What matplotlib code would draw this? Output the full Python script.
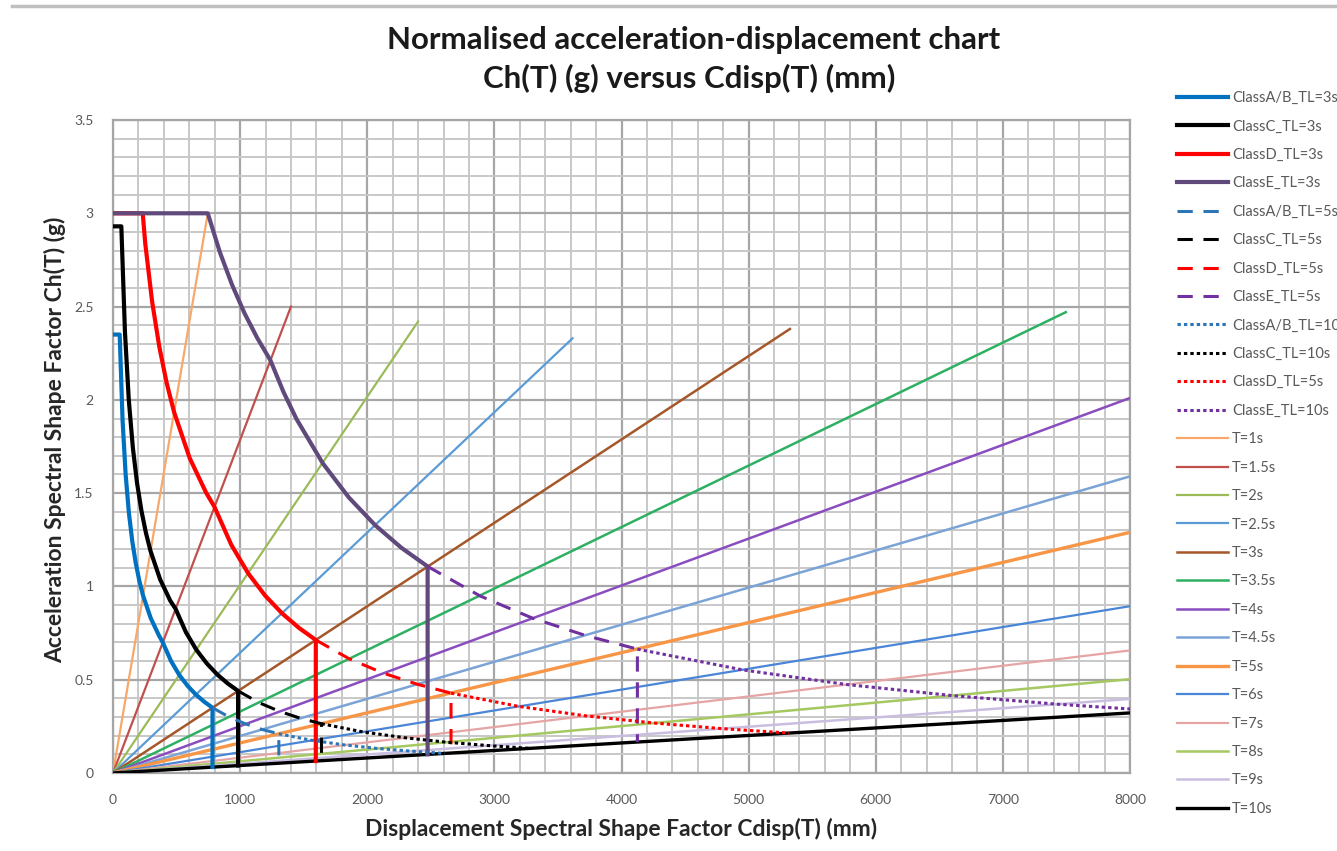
import matplotlib
matplotlib.use("Agg")
import matplotlib.pyplot as plt
from matplotlib.lines import Line2D
from matplotlib.ticker import MultipleLocator, FuncFormatter

# Site class spectra, TL = 3 s (solid): Cdisp (mm) and Ch (g)
AB_TL3_DISP = [0, 52.6, 75.2, 99.4, 124.8, 151.4, 178.9, 207.2, 236.4, 296.9, 360.0,
               391.4, 456.6, 521.8, 587.0, 652.3, 717.5, 782.7, 782.7]
AB_TL3_CH = [2.35, 2.35, 1.892, 1.600, 1.396, 1.243, 1.125, 1.030, 0.951, 0.830, 0.739,
             0.700, 0.600, 0.525, 0.467, 0.420, 0.382, 0.350, 0.032]

C_TL3_DISP = [0, 65.5, 94.0, 124.2, 156.1, 189.2, 223.6, 259.1, 295.5, 371.1, 450.0,
              492.0, 574.0, 656.0, 738.0, 820.0, 902.0, 984.0, 984.0]
C_TL3_CH = [2.93, 2.93, 2.364, 2.000, 1.744, 1.554, 1.406, 1.287, 1.189, 1.037, 0.924,
            0.880, 0.754, 0.660, 0.587, 0.528, 0.480, 0.440, 0.040]

D_TL3_DISP = [0, 233.8, 253.8, 307.7, 363.6, 421.3, 480.6, 603.7, 732.0, 797.7,
              930.6, 1063.5, 1196.5, 1329.4, 1462.4, 1595.3, 1595.3]
D_TL3_CH = [3.0, 3.0, 2.837, 2.527, 2.287, 2.093, 1.934, 1.687, 1.503, 1.427,
            1.223, 1.070, 0.951, 0.856, 0.778, 0.713, 0.064]

E_TL3_DISP = [0, 745.5, 839.8, 936.3, 1034.8, 1135.2, 1237.5, 1340.6, 1443.7, 1650.0,
              1856.2, 2062.5, 2268.7, 2475.0, 2475.0]
E_TL3_CH = [3.0, 3.0, 2.793, 2.617, 2.464, 2.331, 2.213, 2.043, 1.897, 1.660,
            1.476, 1.328, 1.207, 1.107, 0.100]

# TL = 5 s (dashed)
AB_TL5_DISP = [782.7, 913.2, 1043.6, 1174.1, 1304.5, 1304.5]
AB_TL5_CH = [0.350, 0.300, 0.263, 0.233, 0.210, 0.053]
C_TL5_DISP = [984.0, 1148.0, 1312.0, 1476.0, 1640.0, 1640.0]
C_TL5_CH = [0.440, 0.377, 0.330, 0.293, 0.264, 0.066]
D_TL5_DISP = [1595.3, 1861.2, 2127.1, 2393.0, 2658.9, 2658.9]
D_TL5_CH = [0.713, 0.611, 0.535, 0.476, 0.428, 0.107]
E_TL5_DISP = [2475.0, 2887.5, 3300.0, 3712.5, 4125.0, 4125.0]
E_TL5_CH = [1.107, 0.949, 0.830, 0.738, 0.664, 0.166]

# TL = 10 s (dotted)
AB_TL10_DISP = [1304.5, 1565.4, 1826.3, 2087.2, 2348.1, 2609.0]
AB_TL10_CH = [0.210, 0.175, 0.150, 0.131, 0.117, 0.105]
C_TL10_DISP = [1640.0, 1968.0, 2296.0, 2624.0, 2952.0, 3280.0]
C_TL10_CH = [0.264, 0.220, 0.189, 0.165, 0.147, 0.132]
D_TL10_DISP = [2658.9, 3190.6, 3722.4, 4254.2, 4785.9, 5317.7]
D_TL10_CH = [0.428, 0.357, 0.306, 0.268, 0.238, 0.214]
E_TL10_DISP = [4125.0, 4950.0, 5775.0, 6600.0, 7425.0, 8250.0]
E_TL10_CH = [0.664, 0.553, 0.474, 0.415, 0.369, 0.332]

# constant-period lines from the origin
PERIOD_LABELS = ["T=1s", "T=1.5s", "T=2s", "T=2.5s", "T=3s", "T=3.5s", "T=4s",
                 "T=4.5s", "T=5s", "T=6s", "T=7s", "T=8s", "T=9s", "T=10s"]
PERIOD_END_DISP = [745.5, 1400, 2400, 3615, 5325, 7495, 8000, 8000, 8000, 8000,
                   8000, 8000, 8000, 8000]
PERIOD_END_CH = [3.0, 2.50, 2.42, 2.33, 2.38, 2.47, 2.01, 1.59, 1.29, 0.894,
                 0.657, 0.503, 0.397, 0.322]
PERIOD_COLORS = ["#F7A86A", "#C0504D", "#9BBB59", "#5B9BD5", "#A5572A", "#2EB062",
                 "#8A4DBF", "#7BA3D6", "#F79646", "#4A86D8", "#E6A5A5", "#A5C861",
                 "#C9BEDF", "#000000"]
PERIOD_WIDTHS = [1.6, 1.6, 1.6, 1.6, 1.8, 1.8, 1.8, 1.8, 2.4, 1.6, 1.6, 1.8, 1.8, 2.4]

FONT = ["Lato", "DejaVu Sans"]
plt.rcParams["font.family"] = FONT

fig = plt.figure(figsize=(13.37, 8.51), dpi=100)
ax = fig.add_axes([113 / 1337, 78 / 851, 1017 / 1337, 653 / 851])

DASH = (0, (5, 3.5))
DOT = (0, (1.1, 1.0))

series = [
    (AB_TL3_DISP, AB_TL3_CH, "ClassA/B_TL=3s", "#0070C0", "-", 3.0),
    (C_TL3_DISP, C_TL3_CH, "ClassC_TL=3s", "#000000", "-", 3.0),
    (D_TL3_DISP, D_TL3_CH, "ClassD_TL=3s", "#FF0000", "-", 3.0),
    (E_TL3_DISP, E_TL3_CH, "ClassE_TL=3s", "#604A7B", "-", 3.0),
    (AB_TL5_DISP, AB_TL5_CH, "ClassA/B_TL=5s", "#2E75B6", DASH, 2.2),
    (C_TL5_DISP, C_TL5_CH, "ClassC_TL=5s", "#000000", DASH, 2.2),
    (D_TL5_DISP, D_TL5_CH, "ClassD_TL=5s", "#FF0000", DASH, 2.2),
    (E_TL5_DISP, E_TL5_CH, "ClassE_TL=5s", "#7030A0", DASH, 2.2),
    (AB_TL10_DISP, AB_TL10_CH, "ClassA/B_TL=10s", "#2E75B6", DOT, 2.2),
    (C_TL10_DISP, C_TL10_CH, "ClassC_TL=10s", "#000000", DOT, 2.2),
    (D_TL10_DISP, D_TL10_CH, "ClassD_TL=5s", "#FF0000", DOT, 2.2),
    (E_TL10_DISP, E_TL10_CH, "ClassE_TL=10s", "#7030A0", DOT, 2.2),
]

for xs, ys, label, color, ls, lw in series:
    ax.plot(xs, ys, color=color, linestyle=ls, linewidth=lw, label=label,
            zorder=4, clip_on=True)

for label, xe, ye, color, lw in zip(PERIOD_LABELS, PERIOD_END_DISP, PERIOD_END_CH,
                                    PERIOD_COLORS, PERIOD_WIDTHS):
    ax.plot([0, xe], [0, ye], color=color, linewidth=lw, label=label, zorder=3)

ax.set_xlim(0, 8000)
ax.set_ylim(0, 3.5)
ax.xaxis.set_major_locator(MultipleLocator(1000))
ax.xaxis.set_minor_locator(MultipleLocator(200))
ax.yaxis.set_major_locator(MultipleLocator(0.5))
ax.yaxis.set_minor_locator(MultipleLocator(0.1))
ax.yaxis.set_major_formatter(FuncFormatter(lambda v, p: f"{v:g}"))
ax.grid(which="major", color="#A6A6A6", linewidth=1.6, zorder=0)
ax.grid(which="minor", color="#C8C8C8", linewidth=1.4, zorder=0)
ax.set_axisbelow(True)
ax.tick_params(which="both", length=0, labelsize=10, labelcolor="#595959")
ax.tick_params(axis="y", pad=14)
ax.tick_params(axis="x", pad=15)
for s in ax.spines.values():
    s.set_color("#A6A6A6")
    s.set_linewidth(1.6)

fig.text(0.519, 0.953, "Normalised acceleration-displacement chart", ha="center",
         va="center", fontsize=22.5, fontweight="bold", color="#1a1a1a")
fig.text(0.5155, 0.908, "Ch(T) (g) versus Cdisp(T) (mm)", ha="center",
         va="center", fontsize=22.5, fontweight="bold", color="#1a1a1a")
fig.text(621 / 1337, 1 - 829 / 851, "Displacement Spectral Shape Factor Cdisp(T) (mm)",
         ha="center", va="center", fontsize=16.5, fontweight="bold", color="#262626")
fig.text(55 / 1337, 1 - 440 / 851, "Acceleration Spectral Shape Factor Ch(T) (g)",
         ha="center", va="center", rotation=90, fontsize=16.5, fontweight="bold",
         color="#262626")

# chart frame line along the top
fig.add_artist(Line2D([12 / 1337, 1.0], [1 - 6 / 851, 1 - 6 / 851],
                      color="#BFBFBF", linewidth=2.5))

leg = fig.legend(loc="upper left", bbox_to_anchor=(1177 / 1337, 1 - 91 / 851),
                 frameon=False, fontsize=10.5, handlelength=3.5, handletextpad=0.28,
                 labelspacing=0.99, borderpad=0, borderaxespad=0)
for t in leg.get_texts():
    t.set_color("#595959")

fig.savefig("out.png", dpi=100)
